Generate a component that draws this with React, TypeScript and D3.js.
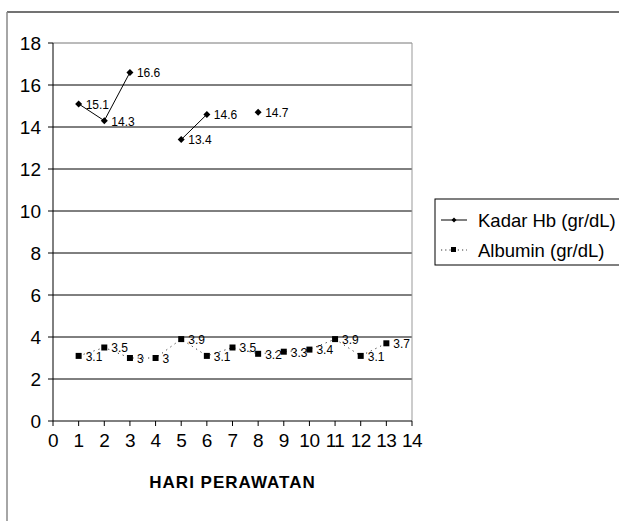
import React from "react";
import * as d3 from "d3";

const days = [1, 2, 3, 4, 5, 6, 7, 8, 9, 10, 11, 12, 13];
const hb: (number | null)[] = [15.1, 14.3, 16.6, null, 13.4, 14.6, null, 14.7, null, null, null, null, null];
const albumin: (number | null)[] = [3.1, 3.5, 3, 3, 3.9, 3.1, 3.5, 3.2, 3.3, 3.4, 3.9, 3.1, 3.7];
const yTicks = [0, 2, 4, 6, 8, 10, 12, 14, 16, 18];
const xTicks = [0, 1, 2, 3, 4, 5, 6, 7, 8, 9, 10, 11, 12, 13, 14];
const legendLabels = ["Kadar Hb (gr/dL)", "Albumin (gr/dL)"];
const xTitle = "HARI PERAWATAN";

export default function App() {
  const W = 619, H = 521;
  const left = 53, right = 412, top = 43, bottom = 421;
  const x = d3.scaleLinear().domain([0, 14]).range([left, right]);
  const y = d3.scaleLinear().domain([0, 18]).range([bottom, top]);
  const font = "'Liberation Sans', Arial, sans-serif";

  const pts = (vals: (number | null)[]) => days.map((d, i) => ({ d, v: vals[i] }));
  const line = d3
    .line<{ d: number; v: number | null }>()
    .defined((p) => p.v !== null)
    .x((p) => x(p.d))
    .y((p) => y(p.v as number));

  const hbPts = pts(hb);
  const alPts = pts(albumin);
  const diamond = (cx: number, cy: number, r: number) =>
    `M${cx},${cy - r}L${cx + r},${cy}L${cx},${cy + r}L${cx - r},${cy}Z`;

  return (
    <svg width={W} height={H} style={{ position: "absolute", left: 0, top: 0, background: "#fff" }}>
      <rect x={0} y={0} width={W} height={H} fill="#fff" />
      {/* outer frame */}
      <line x1={7} y1={12} x2={W} y2={12} stroke="#444" strokeWidth={1.5} />
      <line x1={7} y1={12} x2={7} y2={H} stroke="#888" strokeWidth={1.5} />
      {/* grid */}
      {yTicks.filter((t) => t > 0).map((t) => (
        <line key={t} x1={left} x2={right} y1={y(t)} y2={y(t)} stroke={t === 18 ? "#777" : "#000"} strokeWidth={1} />
      ))}
      <line x1={right} x2={right} y1={top} y2={bottom} stroke="#999" strokeWidth={1} />
      {/* axes */}
      <line x1={left} x2={left} y1={top} y2={bottom} stroke="#000" strokeWidth={1} />
      <line x1={left} x2={right} y1={bottom} y2={bottom} stroke="#000" strokeWidth={1} />
      {yTicks.map((t) => (
        <g key={t}>
          <line x1={left - 5} x2={left} y1={y(t)} y2={y(t)} stroke="#000" />
          <text x={left - 12} y={y(t)} dy="0.36em" textAnchor="end" fontFamily={font} fontSize={19} fill="#000">
            {t}
          </text>
        </g>
      ))}
      {xTicks.map((t) => (
        <g key={t}>
          <line x1={x(t)} x2={x(t)} y1={bottom} y2={bottom + 5} stroke="#000" />
          <text x={x(t)} y={447} textAnchor="middle" fontFamily={font} fontSize={19} letterSpacing={-0.5} fill="#000">
            {t}
          </text>
        </g>
      ))}
      <text x={(left + right) / 2} y={488} textAnchor="middle" fontFamily={font} fontSize={17} fontWeight="bold" letterSpacing={1} fill="#000">
        {xTitle}
      </text>
      {/* series */}
      <path d={line(alPts) || ""} fill="none" stroke="#333" strokeWidth={1} strokeDasharray="1.2,4" />
      <path d={line(hbPts) || ""} fill="none" stroke="#000" strokeWidth={1} />
      {hbPts.filter((p) => p.v !== null).map((p) => (
        <g key={"h" + p.d}>
          <path d={diamond(x(p.d), y(p.v as number), 3.5)} fill="#000" />
          <text x={x(p.d) + 7} y={y(p.v as number)} dy="0.4em" fontFamily={font} fontSize={12} fill="#000">
            {p.v}
          </text>
        </g>
      ))}
      {alPts.filter((p) => p.v !== null).map((p) => (
        <g key={"a" + p.d}>
          <rect x={x(p.d) - 3} y={y(p.v as number) - 3} width={6} height={6} fill="#000" />
          <text x={x(p.d) + 7} y={y(p.v as number)} dy="0.4em" fontFamily={font} fontSize={12} fill="#000">
            {p.v}
          </text>
        </g>
      ))}
      {/* legend */}
      <rect x={435} y={199} width={W - 435 + 2} height={66} fill="#fff" stroke="#000" strokeWidth={1} />
      <line x1={441} x2={467} y1={220} y2={220} stroke="#000" />
      <path d={diamond(454, 220, 2.5)} fill="#000" />
      <text x={478} y={220} dy="0.36em" fontFamily={font} fontSize={18.5} fill="#000">
        {legendLabels[0]}
      </text>
      <line x1={441} x2={467} y1={250} y2={250} stroke="#333" strokeDasharray="1.2,3" />
      <rect x={451} y={247} width={5} height={5} fill="#000" />
      <text x={478} y={250} dy="0.36em" fontFamily={font} fontSize={18.5} fill="#000">
        {legendLabels[1]}
      </text>
    </svg>
  );
}
